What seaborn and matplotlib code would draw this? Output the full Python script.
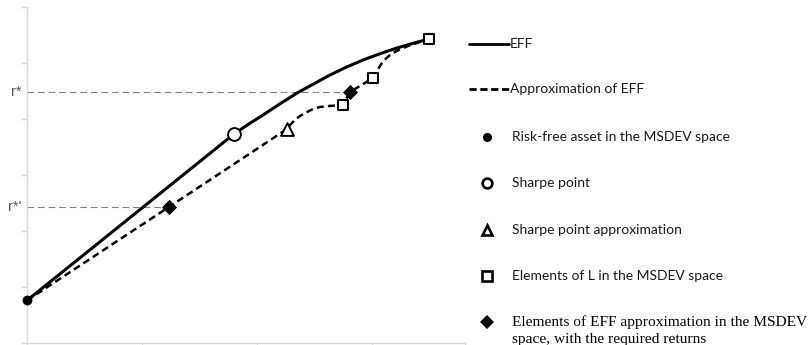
import matplotlib
matplotlib.use("Agg")
import matplotlib.pyplot as plt
import seaborn as sns
import pandas as pd
from matplotlib.lines import Line2D

# --- data (MSDEV space: x = deviation, y = return) ---
eff_x = [0.000, 1.800, 1.922, 2.052, 2.200, 2.348, 2.487, 2.635, 2.774,
         2.922, 3.070, 3.217, 3.357, 3.496]
eff_y = [0.760, 3.732, 3.902, 4.071, 4.271, 4.464, 4.620, 4.786, 4.923,
         5.054, 5.166, 5.268, 5.352, 5.429]

approx_x = [0.000, 1.235, 2.261, 2.287, 2.330, 2.374, 2.435, 2.487, 2.548,
            2.609, 2.661, 2.748, 2.809, 3.009, 3.026, 3.043, 3.061, 3.087,
            3.122, 3.157, 3.209, 3.270, 3.330, 3.391, 3.443, 3.496]
approx_y = [0.760, 2.430, 3.821, 3.893, 3.982, 4.054, 4.125, 4.179, 4.214,
            4.229, 4.237, 4.250, 4.482, 4.732, 4.786, 4.839, 4.920, 5.000,
            5.080, 5.143, 5.209, 5.268, 5.316, 5.357, 5.396, 5.429]

riskfree_x, riskfree_y = [0.000], [0.760]
sharpe_x, sharpe_y = [1.800], [3.732]
sharpe_apx_x, sharpe_apx_y = [2.261], [3.821]
L_x = [2.748, 3.009, 3.496]
L_y = [4.250, 4.732, 5.429]
req_x = [1.235, 2.809]
req_y = [2.430, 4.482]
req_labels = ["r*'", "r*"]

legend_labels = [
    "EFF",
    "Approximation of EFF",
    "Risk-free asset in the MSDEV space",
    "Sharpe point",
    "Sharpe point approximation",
    "Elements of L in the MSDEV space",
    "Elements of EFF approximation in the MSDEV\nspace, with the required returns",
]

sns.set_style("white")
W, H = 809, 345
fig = plt.figure(figsize=(W / 100, H / 100), dpi=100)
ax = fig.add_axes([27 / W, 2 / H, (465 - 27) / W, (343 - 7) / H])

eff = pd.DataFrame({"x": eff_x, "y": eff_y})
apx = pd.DataFrame({"x": approx_x, "y": approx_y})

# required-return guide lines
for rx, ry, lab in zip(req_x, req_y, req_labels):
    ax.plot([0, rx], [ry, ry], color="#808080", lw=0.8,
            linestyle=(0, (6, 3.5)), zorder=1)
    ax.text(-0.05, ry, lab, ha="right", va="center", fontsize=10.5,
            color="#595959", family="Liberation Sans")

sns.lineplot(data=eff, x="x", y="y", sort=False, estimator=None, ax=ax,
             color="black", lw=2.2, zorder=3)
sns.lineplot(data=apx, x="x", y="y", sort=False, estimator=None, ax=ax,
             color="black", lw=1.8, linestyle=(0, (2.8, 1.7)), zorder=3)

sns.scatterplot(x=riskfree_x, y=riskfree_y, ax=ax, marker="o", s=50,
                color="black", edgecolor="black", linewidth=0, zorder=5,
                clip_on=False)
sns.scatterplot(x=sharpe_x, y=sharpe_y, ax=ax, marker="o", s=85,
                color="white", edgecolor="black", linewidth=1.4, zorder=5)
sns.scatterplot(x=sharpe_apx_x, y=sharpe_apx_y, ax=ax, marker="^", s=85,
                color="white", edgecolor="black", linewidth=1.4, zorder=5)
sns.scatterplot(x=L_x, y=L_y, ax=ax, marker="s", s=48,
                color="white", edgecolor="black", linewidth=1.5, zorder=5)
sns.scatterplot(x=req_x, y=req_y, ax=ax, marker="D", s=60,
                color="black", edgecolor="black", linewidth=0, zorder=5)

ax.set_xlim(0, (465 - 27) / 115)
ax.set_ylim(0, 6)
ax.set_xticks([0, 1, 2, 3, (465 - 27) / 115])
ax.set_yticks(range(0, 7))
ax.set_xticklabels([])
ax.set_yticklabels([])
ax.set_xlabel("")
ax.set_ylabel("")
for side in ("top", "right"):
    ax.spines[side].set_visible(False)
for side in ("left", "bottom"):
    ax.spines[side].set_color("#d9d9d9")
    ax.spines[side].set_linewidth(1.0)
ax.tick_params(axis="both", direction="out", length=4, width=1.0,
               color="#d9d9d9", left=True, bottom=True)

# legend panel in pixel coordinates
lax = fig.add_axes([0, 0, 1, 1])
lax.set_xlim(0, W)
lax.set_ylim(H, 0)
lax.axis("off")
lax.patch.set_alpha(0)

sans = dict(family=["Lato", "DejaVu Sans"], fontsize=10, color="#1a1a1a",
            va="center", ha="left")
lax.add_line(Line2D([469, 509], [44, 44], color="black", lw=2.0))
lax.text(510, 44, legend_labels[0], **sans)
lax.add_line(Line2D([469, 509], [89, 89], color="black", lw=2.0,
                    linestyle=(0, (2.6, 1.3))))
lax.text(510, 89, legend_labels[1], **sans)

rows = [137, 183, 230, 276]
styles = [
    dict(marker="o", ms=6.5, mfc="black", mec="black", mew=0),
    dict(marker="o", ms=7, mfc="white", mec="black", mew=1.9),
    dict(marker="^", ms=7.5, mfc="white", mec="black", mew=1.9),
    dict(marker="s", ms=7, mfc="white", mec="black", mew=1.9),
]
for y, st, lab in zip(rows, styles, legend_labels[2:6]):
    lax.add_line(Line2D([487], [y], ls="none", **st))
    lax.text(512, y, lab, **sans)

lax.add_line(Line2D([487], [322], ls="none", marker="D", ms=7,
                    mfc="black", mec="black", mew=0))
first, second = legend_labels[6].split("\n")
serif = dict(family=["Liberation Serif", "DejaVu Serif"], fontsize=11.1,
             color="black", va="center", ha="left")
lax.text(512, 322, first, **serif)
lax.text(512, 340, second, **serif)

fig.savefig("out.png", dpi=100)
